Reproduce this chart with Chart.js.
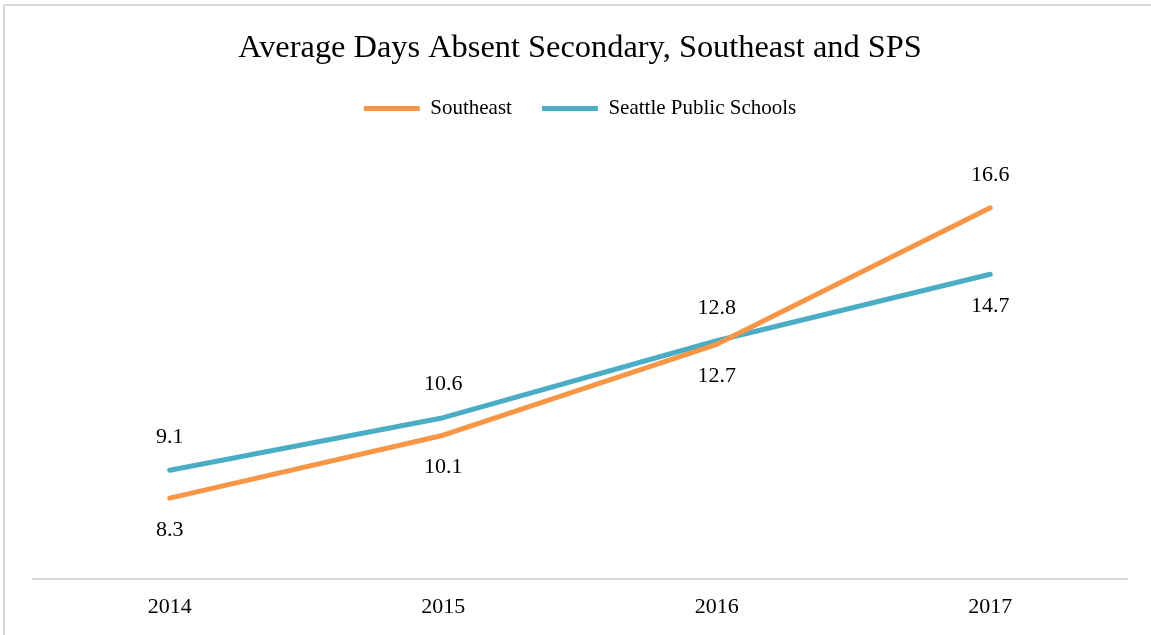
<!DOCTYPE html>
<html>
<head>
<meta charset="utf-8">
<script src="https://cdn.jsdelivr.net/npm/chart.js@4"></script>
<style>
  html, body { margin: 0; padding: 0; background: #fff; }
  #wrap { width: 1151px; height: 635px; position: relative; }
</style>
</head>
<body>
<div id="wrap"><canvas id="absent" width="1151" height="635"></canvas></div>
<script>
(() => {
  // Data
  const years = ['2014', '2015', '2016', '2017'];
  const southeast = [8.3, 10.1, 12.7, 16.6];
  const sps = [9.1, 10.6, 12.8, 14.7];
  // where each value label sits relative to its point
  const southeastLabelPos = ['below', 'below', 'below', 'above'];
  const spsLabelPos = ['above', 'above', 'above', 'below'];

  const serif = "'Liberation Serif', 'DejaVu Serif', serif";

  // Frame (left / top edges of the original chart box)
  const framePlugin = {
    id: 'frame',
    beforeDraw(chart) {
      const ctx = chart.ctx;
      ctx.save();
      ctx.fillStyle = '#fff';
      ctx.fillRect(0, 0, chart.width, chart.height);
      ctx.fillStyle = '#d9d9d9';
      ctx.fillRect(3, 4, 2, chart.height - 4);
      ctx.fillRect(3, 4, chart.width - 3, 2);
      ctx.restore();
    },
  };

  // extra room under the legend
  const legendGap = {
    id: 'legendGap',
    beforeInit(chart) {
      if (!chart.legend) return;
      const origFit = chart.legend.fit;
      chart.legend.fit = function fit() {
        origFit.bind(chart.legend)();
        this.height += 30;
      };
    },
  };

  // Value labels above / below points
  const valueLabels = {
    id: 'valueLabels',
    afterDatasetsDraw(chart) {
      const ctx = chart.ctx;
      ctx.save();
      ctx.font = `22px ${serif}`;
      ctx.fillStyle = '#000';
      ctx.textAlign = 'center';
      ctx.textBaseline = 'middle';
      chart.data.datasets.forEach((ds, i) => {
        const meta = chart.getDatasetMeta(i);
        meta.data.forEach((pt, j) => {
          const off = ds.labelPos[j] === 'above' ? -33 : 32;
          ctx.fillText(ds.data[j].toFixed(1), pt.x, pt.y + off);
        });
      });
      ctx.restore();
    },
  };

  new Chart(document.getElementById('absent'), {
    type: 'line',
    data: {
      labels: years,
      datasets: [
        {
          label: 'Southeast',
          data: southeast,
          labelPos: southeastLabelPos,
          borderColor: '#F79646',
          backgroundColor: '#F79646',
          borderWidth: 5,
          borderCapStyle: 'round',
          borderJoinStyle: 'round',
          pointRadius: 0,
          tension: 0,
        },
        {
          label: 'Seattle Public Schools',
          data: sps,
          labelPos: spsLabelPos,
          borderColor: '#4BACC6',
          backgroundColor: '#4BACC6',
          borderWidth: 5,
          borderCapStyle: 'round',
          borderJoinStyle: 'round',
          pointRadius: 0,
          tension: 0,
        },
      ],
    },
    options: {
      responsive: false,
      animation: false,
      layout: { padding: { left: 33, right: 24, top: 0, bottom: 0 } },
      scales: {
        x: {
          offset: true,
          grid: { display: false, drawTicks: false },
          border: { display: true, color: '#d9d9d9', width: 2 },
          ticks: { color: '#000', padding: 15, font: { family: serif, size: 22 } },
        },
        y: {
          display: false,
          min: 6,
          max: 18,
        },
      },
      plugins: {
        title: {
          display: true,
          text: 'Average Days Absent Secondary, Southeast and SPS',
          color: '#000',
          font: { family: serif, size: 32.4, weight: 'normal' },
          padding: { top: 29, bottom: 0 },
        },
        legend: {
          display: true,
          labels: {
            color: '#000',
            font: { family: serif, size: 21 },
            usePointStyle: true,
            pointStyle: 'line',
            pointStyleWidth: 56,
            padding: 30,
          },
        },
        tooltip: { enabled: false },
      },
    },
    plugins: [framePlugin, legendGap, valueLabels],
  });
})();
</script>
</body>
</html>
